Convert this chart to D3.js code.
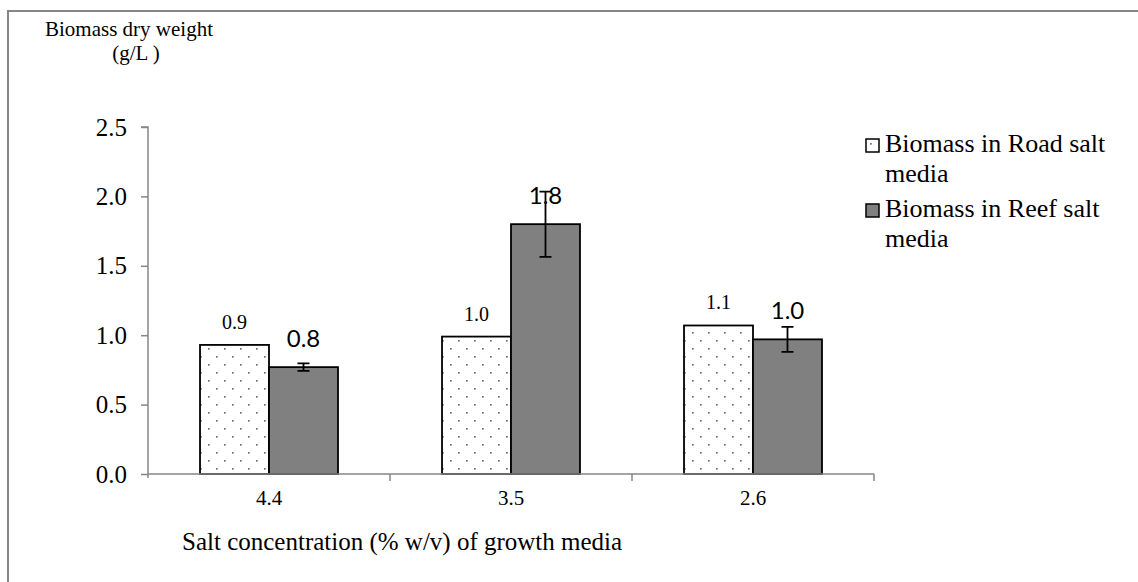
<!DOCTYPE html>
<html>
<head>
<meta charset="utf-8">
<script src="https://cdnjs.cloudflare.com/ajax/libs/d3/7.8.5/d3.min.js"></script>
<style>
  body { margin: 0; background: #fff; }
  text { font-family: "Liberation Serif", "Times New Roman", serif; fill: #000; }
</style>
</head>
<body>
<script>
// data
var categories = ["4.4", "3.5", "2.6"];
var seriesNames = ["Biomass in Road salt media", "Biomass in Reef salt media"];
var roadValues = [0.93, 0.99, 1.07];
var reefValues = [0.77, 1.80, 0.97];
var reefErrors = [0.027, 0.235, 0.09];
var roadLabels = ["0.9", "1.0", "1.1"];
var reefLabels = ["0.8", "1.8", "1.0"];
var yTicks = [0, 0.5, 1.0, 1.5, 2.0, 2.5];

var W = 1138, H = 582;
var plot = {left: 148, right: 874, top: 127, bottom: 474};

var svg = d3.select("body").append("svg")
    .attr("width", W)
    .attr("height", H);

// dotted pattern for the road salt bars
var defs = svg.append("defs");
var pat = defs.append("pattern")
    .attr("id", "dots")
    .attr("patternUnits", "userSpaceOnUse")
    .attr("width", 16).attr("height", 16);
pat.append("rect").attr("width", 16).attr("height", 16).attr("fill", "#fff");
pat.append("rect").attr("x", 4).attr("y", 4).attr("width", 1.7).attr("height", 1.7).attr("fill", "#707070");
pat.append("rect").attr("x", 12).attr("y", 12).attr("width", 1.7).attr("height", 1.7).attr("fill", "#707070");

// outer frame
svg.append("path")
    .attr("d", "M8," + (H + 5) + "V11H" + (W + 5))
    .attr("fill", "none")
    .attr("stroke", "#868686")
    .attr("stroke-width", 2);

// scales
var x0 = d3.scaleBand().domain(categories).range([plot.left, plot.right]);
var x1 = d3.scaleBand().domain([0, 1]).range([0, x0.bandwidth()]).paddingOuter(0.754);
var y = d3.scaleLinear().domain([0, 2.5]).range([plot.bottom, plot.top]);

// y axis
var yAxis = svg.append("g")
    .attr("transform", "translate(" + plot.left + ",0)")
    .call(d3.axisLeft(y).tickValues(yTicks).tickFormat(d3.format(".1f")).tickSize(7).tickPadding(14))
    .attr("font-family", null)
    .attr("font-size", null);
yAxis.select(".domain").attr("d", "M-7," + y(2.5) + "H0V" + (plot.bottom + 4));
yAxis.selectAll("line, path").attr("stroke", "#868686").attr("stroke-width", 1.5);
yAxis.selectAll("text").style("font-family", "'Liberation Serif', serif").style("font-size", "25px");

// bars
var groups = svg.append("g").selectAll("g")
    .data(categories)
    .join("g")
    .attr("transform", function(d) { return "translate(" + x0(d) + ",0)"; });

groups.append("rect")
    .attr("x", x1(0))
    .attr("y", function(d, i) { return y(roadValues[i]); })
    .attr("width", x1.bandwidth())
    .attr("height", function(d, i) { return y(0) - y(roadValues[i]); })
    .attr("fill", "url(#dots)")
    .attr("stroke", "#000")
    .attr("stroke-width", 1.8);

groups.append("rect")
    .attr("x", x1(1))
    .attr("y", function(d, i) { return y(reefValues[i]); })
    .attr("width", x1.bandwidth())
    .attr("height", function(d, i) { return y(0) - y(reefValues[i]); })
    .attr("fill", "#808080")
    .attr("stroke", "#000")
    .attr("stroke-width", 1.8);

// x axis
var xAxis = svg.append("g")
    .attr("transform", "translate(0," + plot.bottom + ")");
xAxis.append("line")
    .attr("x1", plot.left).attr("x2", plot.right)
    .attr("stroke", "#868686").attr("stroke-width", 1.5);
xAxis.selectAll(".sep")
    .data(categories)
    .join("line")
    .attr("class", "sep")
    .attr("x1", function(d) { return x0(d) + x0.bandwidth(); })
    .attr("x2", function(d) { return x0(d) + x0.bandwidth(); })
    .attr("y1", 0).attr("y2", 7)
    .attr("stroke", "#868686").attr("stroke-width", 1.5);
xAxis.selectAll(".lbl")
    .data(categories)
    .join("text")
    .attr("class", "lbl")
    .attr("x", function(d) { return x0(d) + x0.bandwidth() / 2; })
    .attr("y", 31)
    .attr("text-anchor", "middle")
    .style("font-size", "21px")
    .text(function(d) { return d; });

// error bars on reef salt bars
var cx = x1(1) + x1.bandwidth() / 2;
groups.append("path")
    .attr("d", function(d, i) {
      var t = y(reefValues[i] + reefErrors[i]), b = y(reefValues[i] - reefErrors[i]);
      return "M" + cx + "," + t + "V" + b +
             "M" + (cx - 6) + "," + t + "H" + (cx + 6) +
             "M" + (cx - 6) + "," + b + "H" + (cx + 6);
    })
    .attr("fill", "none")
    .attr("stroke", "#000")
    .attr("stroke-width", 1.8);

// value labels
groups.append("text")
    .attr("x", x1(0) + x1.bandwidth() / 2)
    .attr("y", function(d, i) { return y(roadValues[i]) - 16; })
    .attr("text-anchor", "middle")
    .style("font-size", "20px")
    .text(function(d, i) { return roadLabels[i]; });

groups.append("text")
    .attr("x", cx)
    .attr("y", function(d, i) { return y(reefValues[i]) - 20; })
    .attr("text-anchor", "middle")
    .style("font-family", "Lato, 'Open Sans', sans-serif")
    .style("font-size", "24px")
    .text(function(d, i) { return reefLabels[i]; });

// axis titles
svg.append("text")
    .attr("x", 129).attr("y", 36)
    .attr("text-anchor", "middle")
    .style("font-size", "21px")
    .text("Biomass dry weight");
svg.append("text")
    .attr("x", 136).attr("y", 60)
    .attr("text-anchor", "middle")
    .style("font-size", "21px")
    .text("(g/L )");
svg.append("text")
    .attr("x", 182).attr("y", 550)
    .style("font-size", "25px")
    .text("Salt concentration (% w/v) of growth media");

// legend
var legendFills = ["url(#dots)", "#808080"];
var legend = svg.append("g").selectAll("g")
    .data(seriesNames)
    .join("g")
    .attr("transform", function(d, i) { return "translate(866," + (139 + i * 65) + ")"; });
legend.append("rect")
    .attr("width", 13).attr("height", 13)
    .attr("fill", function(d, i) { return legendFills[i]; })
    .attr("stroke", "#000").attr("stroke-width", 1.5);
var lt = legend.append("text")
    .attr("x", 19).attr("y", 13)
    .style("font-size", "26px");
lt.append("tspan").text(function(d) { return d.replace(" media", ""); });
lt.append("tspan").attr("x", 19).attr("dy", 30).text("media");
</script>
</body>
</html>
